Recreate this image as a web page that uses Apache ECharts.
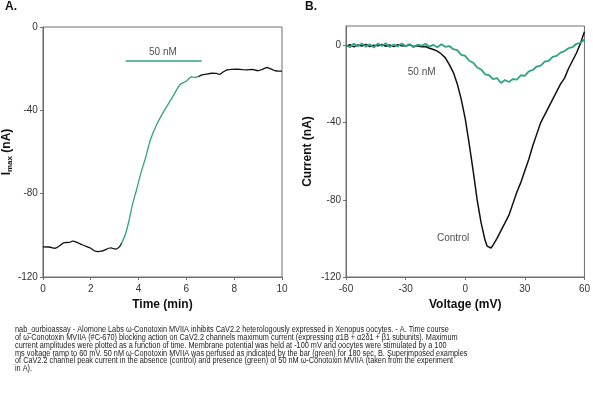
<!DOCTYPE html>
<html>
<head>
<meta charset="utf-8">
<script src="https://cdn.jsdelivr.net/npm/echarts@6/dist/echarts.min.js"></script>
<style>
  html, body { margin: 0; padding: 0; background: #fff; }
  #chart { width: 593px; height: 396px; }
</style>
</head>
<body>
<div id="chart"></div>
<script>
// panel A: Imax vs time
var timeBefore = [0, 0.25, 0.5, 0.7, 0.9, 1.1, 1.25, 1.45, 1.6, 1.8, 2.0, 2.15, 2.3, 2.45, 2.6, 2.75, 2.85, 2.95, 3.05, 3.2, 3.3]
var imaxBefore = [-105.5, -105.6, -106.2, -105, -103.5, -103.4, -102.8, -103.5, -104.3, -105.3, -106.2, -107.4, -107.8, -107.6, -107, -106.2, -106, -106.4, -106.6, -105.5, -103.5]
var timeToxin = [3.3, 3.45, 3.6, 3.75, 3.92, 4.1, 4.3, 4.5, 4.75, 5.05, 5.4, 5.75, 6.0, 6.2, 6.35, 6.5]
var imaxToxin = [-103.5, -99.5, -93, -85, -78, -70, -62.5, -54, -47, -40.6, -34, -27.5, -26, -24, -24.2, -23.8]
var timeAfter = [6.5, 6.65, 6.85, 7.05, 7.25, 7.4, 7.55, 7.7, 7.9, 8.15, 8.35, 8.55, 8.75, 9.0, 9.15, 9.37, 9.55, 9.71, 9.85, 10]
var imaxAfter = [-23.8, -23, -22.6, -22.2, -22.3, -22.8, -21.5, -20.6, -20.3, -20.2, -20.5, -20.6, -20.3, -21, -20.5, -19.4, -20.2, -21, -21.2, -21.2]
var perfusionBar = [3.46, 6.64]
var perfusionLevel = -16.3

// panel B: I-V ramps
var voltControl = [-60, -58, -56, -54, -52, -50, -48, -46, -44, -42, -40, -38, -36, -34, -32, -30, -28, -26, -24, -22, -20, -18, -16, -14, -12, -10, -8, -6, -4, -2, 0, 2, 4, 6, 8, 10, 11, 12, 13, 14, 15, 16, 18, 20, 22, 24, 26, 28, 30, 32, 34, 36, 38, 40, 42, 44, 46, 48, 50, 52, 54, 56, 58, 60]
var currControl = [-0.5, 0.3, -0.8, 0.2, -0.4, 0.5, -0.6, 0.1, -0.3, 0.4, -0.5, 0.2, -0.7, 0.3, -0.2, -0.4, 0.3, -0.6, -0.2, -0.8, -0.6, -1.5, -2.2, -3, -4.5, -6.5, -10, -14, -20, -28, -38, -51, -65, -80, -92, -101, -104, -103, -105, -103.5, -102.5, -100, -96, -92, -88, -82, -76, -71, -65, -59, -52, -46, -40, -36, -32, -28, -24, -20, -17, -12, -8, -4, 1, 7]
var voltToxin = [-60, -58, -56, -54, -52, -50, -48, -46, -44, -42, -40, -38, -36, -34, -32, -30, -28, -26, -24, -22, -20, -18, -16, -14, -12, -10, -8, -6, -4, -2, 0, 2, 4, 6, 8, 10, 12, 14, 16, 18, 20, 22, 24, 26, 28, 30, 32, 34, 36, 38, 40, 42, 44, 46, 48, 50, 52, 54, 56, 58, 60]
var currToxin = [0, -1, 0.8, -0.5, 1, -0.8, 0.5, -1.2, 0.9, -0.3, 1.1, -0.9, 0.4, -0.6, 1, -0.5, 0.6, -1, 0.3, -0.2, 0.8, -0.7, 0.2, -1, 0.5, -0.8, -0.4, -2, -2.5, -5, -5.5, -8, -9, -11.5, -12.5, -15, -15.5, -17.5, -17, -19.5, -18, -19, -17.5, -17.8, -15.5, -15.8, -13.5, -12.8, -11, -10.5, -8.5, -8, -6, -5.5, -3.8, -3, -1.5, -1, 0.8, 1.2, 3]

var yTicksB = [-120, -80, -40, 0]

var caption = [
  "nab_ourbioassay - Alomone Labs \u03c9-Conotoxin MVIIA inhibits CaV2.2 heterologously expressed in Xenopus oocytes. - A. Time course",
  "of \u03c9-Conotoxin MVIIA (#C-670) blocking action on CaV2.2 channels maximum current (expressing \u03b11B + \u03b12\u03b41 + \u03b21 subunits). Maximum",
  "current amplitudes were plotted as a function of time. Membrane potential was held at -100 mV and oocytes were stimulated by a 100",
  "ms voltage ramp to 60 mV. 50 nM \u03c9-Conotoxin MVIIA was perfused as indicated by the bar (green) for 180 sec. B. Superimposed examples",
  "of CaV2.2 channel peak current in the absence (control) and presence (green) of 50 nM \u03c9-Conotoxin MVIIA (taken from the experiment",
  "in A)."
]

var GREEN = "#2ea386"
var AXIS = "#6e6e6e"
var sans = "'Liberation Sans', Arial, sans-serif"

function zip(xs, ys) {
  return xs.map(function (x, i) { return [x, ys[i]] })
}

function axisCommon() {
  return {
    axisLine: {show: true, onZero: false, lineStyle: {color: AXIS, width: 1}},
    axisTick: {show: true, length: 3, lineStyle: {color: AXIS}},
    splitLine: {show: false},
    axisLabel: {color: "#333", fontFamily: sans, fontSize: 10, margin: 5},
    nameTextStyle: {color: "#111", fontFamily: sans, fontWeight: "bold", fontSize: 12}
  }
}

var xA = Object.assign(axisCommon(), {
  gridIndex: 0, type: "value", min: 0, max: 10, interval: 2,
  name: "Time (min)", nameLocation: "middle", nameGap: 22
})
xA.axisLabel.margin = 7
var yA = Object.assign(axisCommon(), {
  gridIndex: 0, type: "value", min: -120, max: 0, interval: 40,
  name: "{i|I}{s|max}{i| (nA)}", nameLocation: "middle", nameGap: 16
})
yA.nameTextStyle.rich = {
  i: {fontFamily: sans, fontWeight: "bold", fontSize: 12, color: "#111"},
  s: {fontFamily: sans, fontSize: 8, color: "#111", padding: [6, 0, 0, 0]}
}
var xB = Object.assign(axisCommon(), {
  gridIndex: 1, type: "value", min: -60, max: 60, interval: 30,
  name: "Voltage (mV)", nameLocation: "middle", nameGap: 22
})
xB.axisLabel.margin = 7
var yB = Object.assign(axisCommon(), {
  gridIndex: 1, type: "value", min: -120, max: 10,
  name: "Current (nA)", nameLocation: "middle", nameGap: 32
})
yB.axisLabel.customValues = yTicksB
yB.axisTick.customValues = yTicksB

var noteLabel = {show: true, position: "inside", color: "#222", fontFamily: sans, fontSize: 10}

var myChart = echarts.init(document.getElementById("chart"))
myChart.setOption({
  animation: false,
  backgroundColor: "#fff",
  grid: [
    {left: 39, right: 311, top: 27, bottom: 119, show: true, borderColor: AXIS, borderWidth: 1},
    {left: 346, right: 4, top: 26, bottom: 119, show: true, borderColor: AXIS, borderWidth: 1}
  ],
  xAxis: [xA, xB],
  yAxis: [yA, yB],
  series: [
    {type: "line", xAxisIndex: 0, yAxisIndex: 0, data: zip(timeBefore, imaxBefore), smooth: 0.4, showSymbol: false,
      lineStyle: {color: "#111", width: 1.3}},
    {type: "line", xAxisIndex: 0, yAxisIndex: 0, data: zip(timeToxin, imaxToxin), smooth: 0.3, showSymbol: false,
      lineStyle: {color: GREEN, width: 1.3}},
    {type: "line", xAxisIndex: 0, yAxisIndex: 0, data: zip(timeAfter, imaxAfter), showSymbol: false,
      lineStyle: {color: "#111", width: 1.3}},
    {type: "line", xAxisIndex: 0, yAxisIndex: 0, data: perfusionBar.map(function (t) { return [t, perfusionLevel] }),
      showSymbol: false, lineStyle: {color: GREEN, width: 1.6}},
    {type: "scatter", xAxisIndex: 0, yAxisIndex: 0, symbolSize: 0, data: [[5.02, -12]],
      label: Object.assign({formatter: "50 nM"}, noteLabel)},
    {type: "line", xAxisIndex: 1, yAxisIndex: 1, data: zip(voltControl, currControl), showSymbol: false,
      lineStyle: {color: "#111", width: 1.5}},
    {type: "line", xAxisIndex: 1, yAxisIndex: 1, data: zip(voltToxin, currToxin), showSymbol: false,
      lineStyle: {color: GREEN, width: 1.8}},
    {type: "scatter", xAxisIndex: 1, yAxisIndex: 1, symbolSize: 0, data: [[-21.9, -13.7]],
      label: Object.assign({formatter: "50 nM"}, noteLabel)},
    {type: "scatter", xAxisIndex: 1, yAxisIndex: 1, symbolSize: 0, data: [[-6.1, -99.9]],
      label: Object.assign({formatter: "Control"}, noteLabel)}
  ],
  graphic: [
    {type: "text", left: 5, top: 1, style: {text: "A.", font: "bold 12px " + sans, fill: "#111"}},
    {type: "text", left: 305, top: 1, style: {text: "B.", font: "bold 12px " + sans, fill: "#111"}},
    {type: "text", x: 15, y: 326, scaleX: 0.86, style: {text: caption.join("\n"), font: "8.5px " + sans, lineHeight: 7.8, fill: "#222"}}
  ]
})
</script>
</body>
</html>
